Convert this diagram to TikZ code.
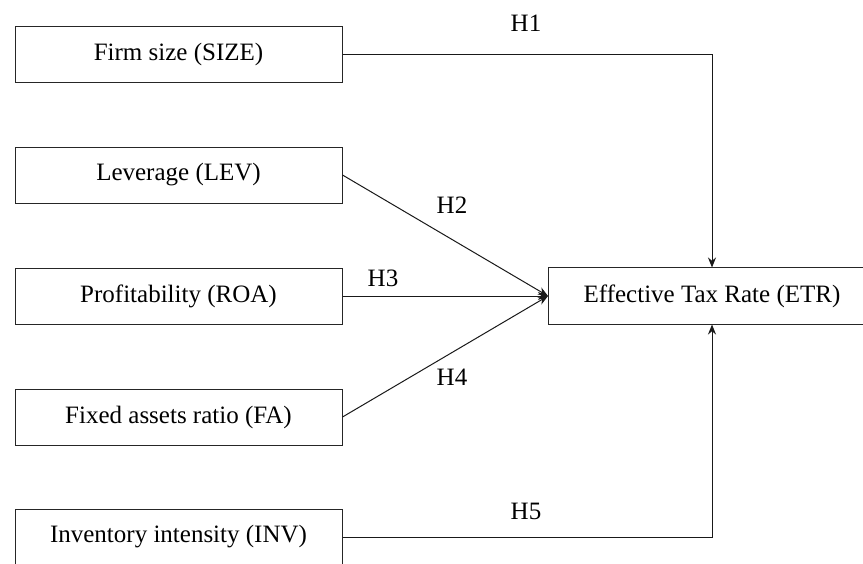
\documentclass[tikz,border=0pt]{standalone}
\usepackage{fontspec}
\setmainfont{Liberation Serif}
\usetikzlibrary{arrows.meta}
\begin{document}
\begin{tikzpicture}[x=1pt,y=-1pt,
  varbox/.style={draw=black!85, line width=1pt, minimum width=327pt, minimum height=56pt, inner sep=0pt, font=\fontsize{25}{29}\selectfont},
  link/.style={draw=black!90, line width=1pt, -{Stealth[length=10pt,width=8pt]}},
  hlab/.style={font=\fontsize{25}{29}\selectfont, inner sep=0pt}]
\useasboundingbox (0,0) rectangle (863,563);
\clip (0,0) rectangle (863,563);
\node[varbox] (size) at (178.5,54) {Firm size (SIZE)};
\node[varbox] (lev) at (178.5,175) {Leverage (LEV)};
\node[varbox] (roa) at (178.5,296) {Profitability (ROA)};
\node[varbox] (fa) at (178.5,417) {Fixed assets ratio (FA)};
\node[varbox] (inv) at (178.5,537) {Inventory intensity (INV)};
\node[varbox, draw=none] (etr) at (712,296) {Effective Tax Rate (ETR)};
\draw[black!85, line width=1pt] (etr.north east) -- (etr.north west) -- (etr.south west) -- (etr.south east);
\draw[link] (size.east) -| (etr.north);
\draw[link] (lev.east) -- (etr.west);
\draw[link] (roa.east) -- (etr.west);
\draw[link] (fa.east) -- (etr.west);
\draw[link] (inv.east) -| (etr.south);
\node[hlab] (h1) at (526,23) {H1};
\node[hlab] (h2) at (452,205) {H2};
\node[hlab] (h3) at (383,278) {H3};
\node[hlab] (h4) at (452,377) {H4};
\node[hlab] (h5) at (526,511) {H5};
\end{tikzpicture}
\end{document}
